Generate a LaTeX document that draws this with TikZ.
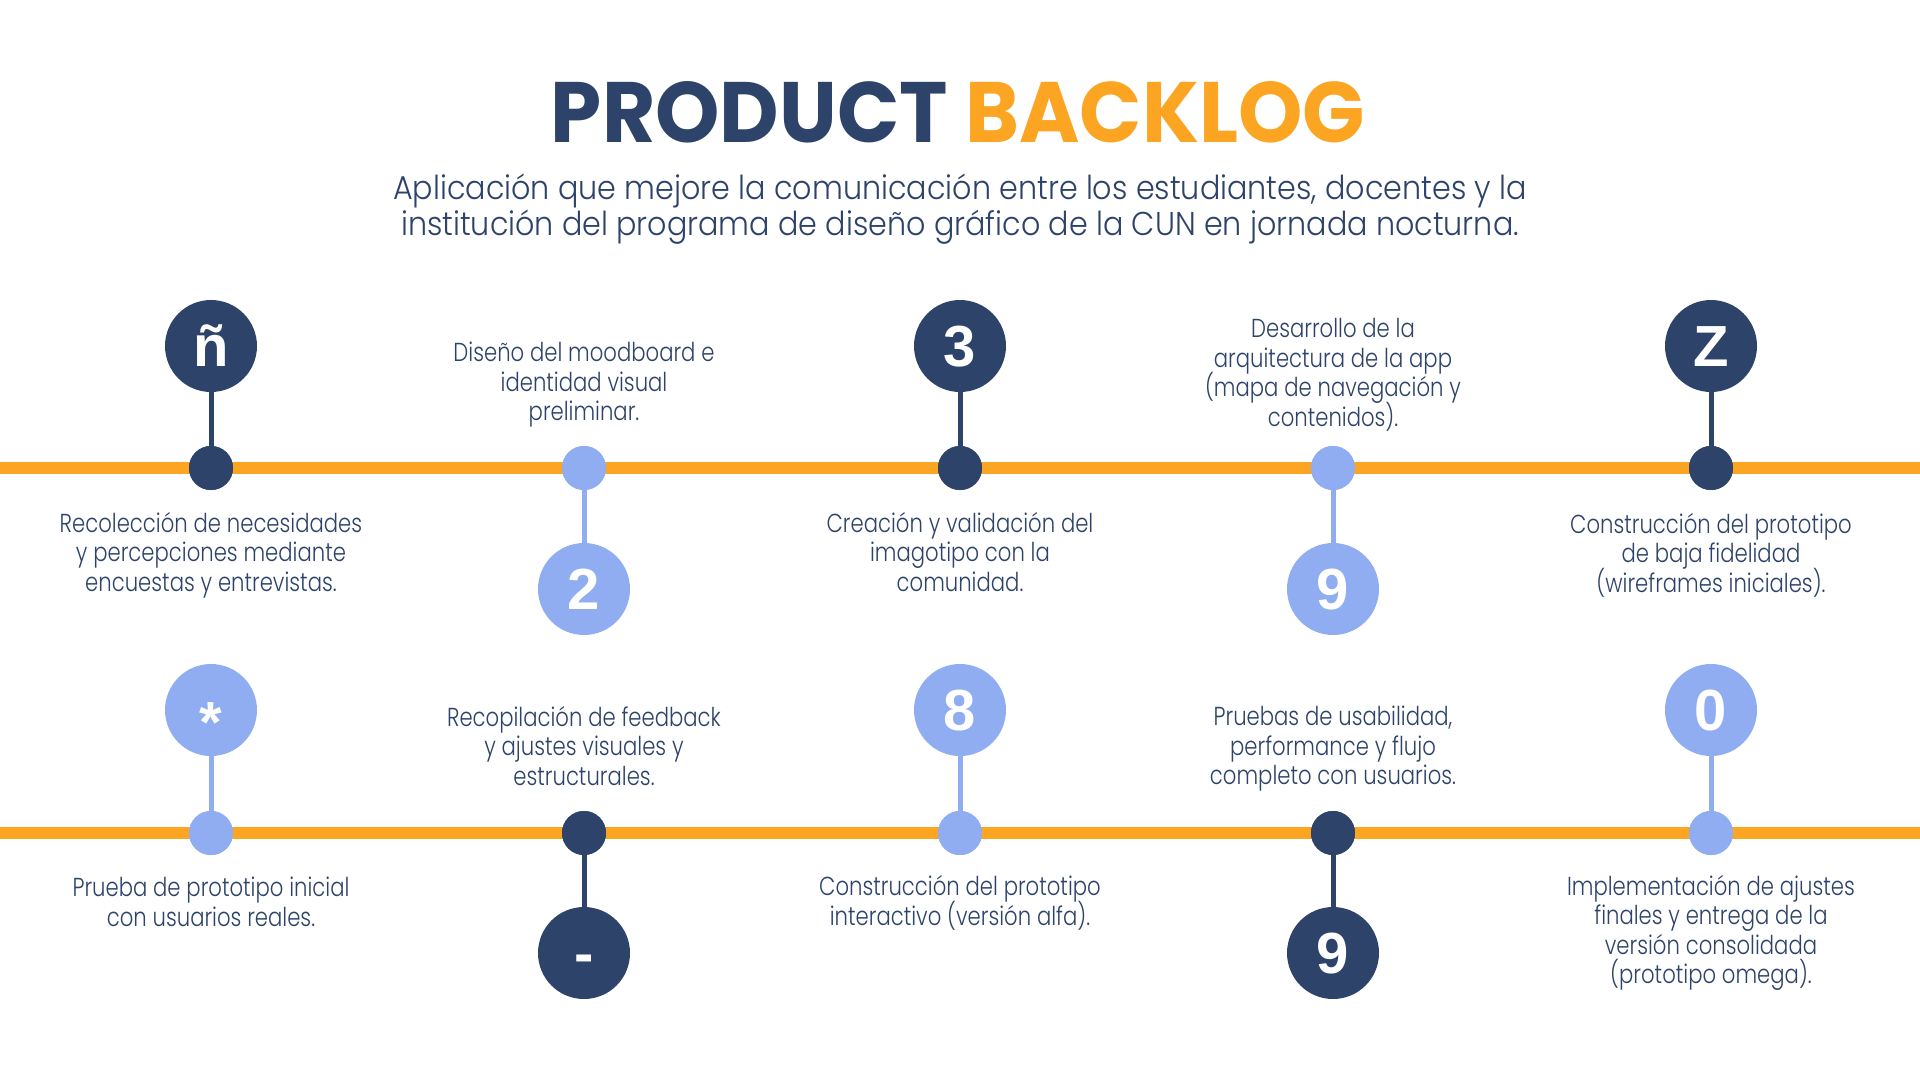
\documentclass[tikz,border=0pt]{standalone}
\usepackage{fontspec}
\IfFontExistsTF{Poppins Light}
  {\newfontfamily\bodyfont{Poppins Light}[FakeStretch=0.815]
   \newfontfamily\subfont{Poppins Light}[FakeStretch=0.915]}
  {\newfontfamily\bodyfont{Poppins}[FakeStretch=0.815]
   \newfontfamily\subfont{Poppins}[FakeStretch=0.915]}
\newfontfamily\titlefont{Poppins}
\newfontfamily\numfont{Liberation Sans}
\newcommand\tightlines{\lineskiplimit=-30pt\relax}
\definecolor{navy}{HTML}{2E4369}
\definecolor{lightblue}{HTML}{8FADF0}
\definecolor{orangeline}{HTML}{FCA523}
\begin{document}
\begin{tikzpicture}[x=1pt,y=-1pt,
  every node/.style={inner sep=0pt,outer sep=0pt},
  big/.style={circle,minimum size=92pt,text=white,
    font=\numfont\bfseries\fontsize{58}{58}\selectfont,
    text height=41.5pt,text depth=0pt},
  bigdark/.style={big,fill=navy},
  biglight/.style={big,fill=lightblue},
  dotdark/.style={circle,minimum size=44pt,fill=navy},
  dotlight/.style={circle,minimum size=44pt,fill=lightblue},
  stemdark/.style={line width=5pt,draw=navy},
  stemlight/.style={line width=5pt,draw=lightblue},
  timeline/.style={line width=12pt,draw=orangeline},
  desc/.style={align=center,text=navy,font={\bodyfont\fontsize{26}{29.5}\selectfont\tightlines}},
  subt/.style={align=center,text=navy,font={\subfont\fontsize{33}{36}\selectfont\tightlines}}]
\useasboundingbox (0,0) rectangle (1920,1080);
\fill[white] (0,0) rectangle (1920,1080);

% title
\node (title) at (958,112) {\resizebox{814pt}{61pt}{\titlefont\bfseries\textcolor{navy}{PRODUCT} \textcolor{orangeline}{BACKLOG}}};
\node[subt] (subtitle) at (960,209) {Aplicación que mejore la comunicación entre los estudiantes, docentes y la\\institución del programa de diseño gráfico de la CUN en jornada nocturna.};

% timelines
\coordinate (t1l) at (0,468);
\coordinate (t1r) at (1920,468);
\coordinate (t2l) at (0,833);
\coordinate (t2r) at (1920,833);
\draw[timeline] (t1l) -- (t1r);
\draw[timeline] (t2l) -- (t2r);

% ---- top row ----
\node[dotdark]  (d1) at (211,468) {};
\node[dotlight] (d2) at (584,468) {};
\node[dotdark]  (d3) at (960,468) {};
\node[dotlight] (d4) at (1333,468) {};
\node[dotdark]  (d5) at (1711,468) {};

\node[bigdark]  (c1) at (211,346) {ñ};
\node[biglight] (c2) at (584,589) {2};
\node[bigdark]  (c3) at (960,346) {3};
\node[biglight] (c4) at (1333,589) {9};
\node[bigdark]  (c5) at (1711,346) {Z};

\draw[stemdark]  (c1.south) -- (d1.center);
\draw[stemlight] (c2.north) -- (d2.center);
\draw[stemdark]  (c3.south) -- (d3.center);
\draw[stemlight] (c4.north) -- (d4.center);
\draw[stemdark]  (c5.south) -- (d5.center);
\node[dotdark]  at (d1) {};
\node[dotlight] at (d2) {};
\node[dotdark]  at (d3) {};
\node[dotlight] at (d4) {};
\node[dotdark]  at (d5) {};

\node[desc] (x1) at (211,555) {Recolección de necesidades\\y percepciones mediante\\encuestas y entrevistas.};
\node[desc] (x2) at (584,385) {Diseño del moodboard e\\identidad visual\\preliminar.};
\node[desc] (x3) at (960,552) {Creación y validación del\\imagotipo con la\\comunidad.};
\node[desc] (x4) at (1333,375) {Desarrollo de la\\arquitectura de la app\\(mapa de navegación y\\contenidos).};
\node[desc] (x5) at (1711,555) {Construcción del prototipo\\de baja fidelidad\\(wireframes iniciales).};

% ---- bottom row ----
\node[dotlight] (e1) at (211,833) {};
\node[dotdark]  (e2) at (584,833) {};
\node[dotlight] (e3) at (960,833) {};
\node[dotdark]  (e4) at (1333,833) {};
\node[dotlight] (e5) at (1711,833) {};

\node[biglight] (f1) at (211,710) {\raisebox{-12pt}{*}};
\node[bigdark]  (f2) at (584,953) {-};
\node[biglight] (f3) at (960,710) {8};
\node[bigdark]  (f4) at (1333,953) {9};
\node[biglight] (f5) at (1711,710) {0};

\draw[stemlight] (f1.south) -- (e1.center);
\draw[stemdark]  (f2.north) -- (e2.center);
\draw[stemlight] (f3.south) -- (e3.center);
\draw[stemdark]  (f4.north) -- (e4.center);
\draw[stemlight] (f5.south) -- (e5.center);
\node[dotlight] at (e1) {};
\node[dotdark]  at (e2) {};
\node[dotlight] at (e3) {};
\node[dotdark]  at (e4) {};
\node[dotlight] at (e5) {};

\node[desc] (y1) at (211,902) {Prueba de prototipo inicial\\con usuarios reales.};
\node[desc] (y2) at (584,746) {Recopilación de feedback\\y ajustes visuales y\\estructurales.};
\node[desc] (y3) at (960,903) {Construcción del prototipo\\interactivo (versión alfa).};
\node[desc] (y4) at (1333,749) {Pruebas de usabilidad,\\performance y flujo\\completo con usuarios.};
\node[desc] (y5) at (1711,933) {Implementación de ajustes\\finales y entrega de la\\versión consolidada\\(prototipo omega).};
\end{tikzpicture}
\end{document}
